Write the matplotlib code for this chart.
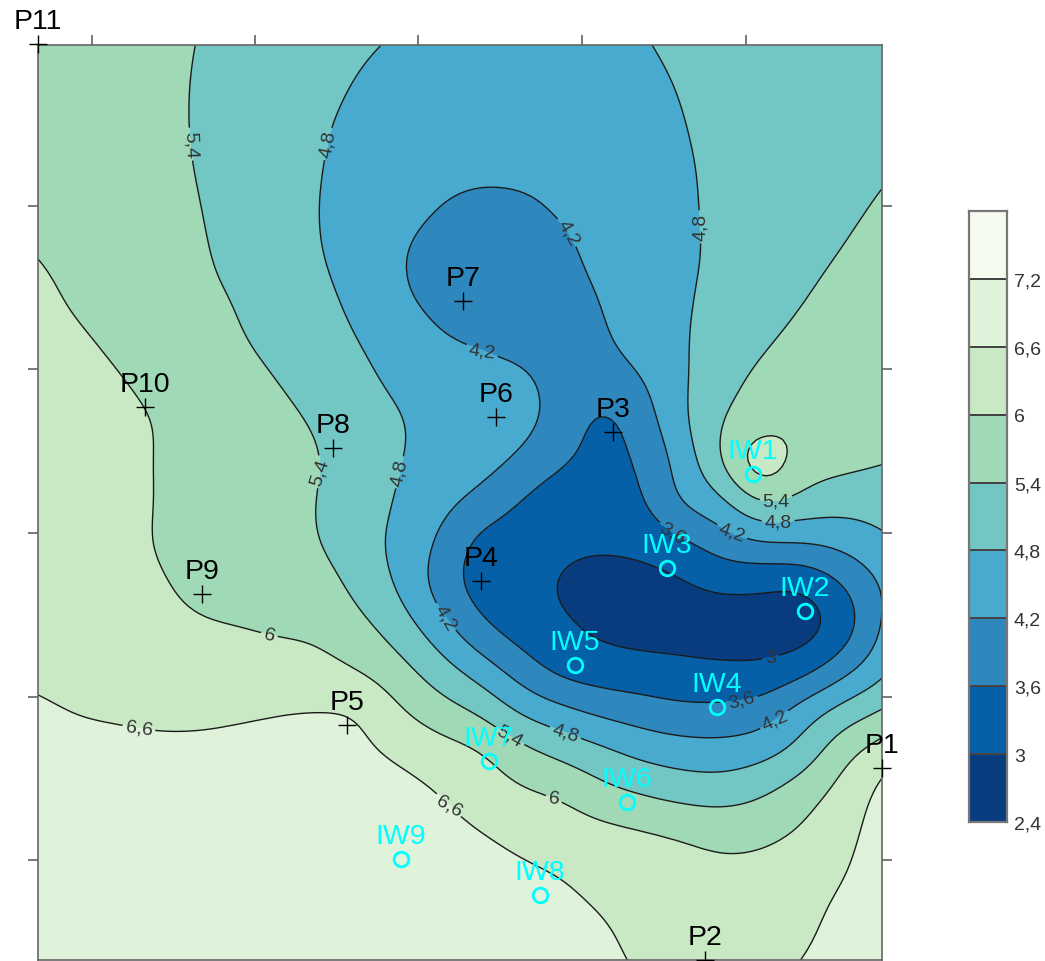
import matplotlib
matplotlib.use('Agg')
import matplotlib.pyplot as plt
from matplotlib.colors import BoundaryNorm, ListedColormap
import numpy as np

plt.rcParams['font.family'] = ['Liberation Sans', 'DejaVu Sans']

# map coordinates are image-like: x to the right, y downwards
x_min, x_max = 38, 882
y_top, y_bottom = 46, 961

# surface values, row by row from the top (22 columns, 23 rows)
surface = np.array([
    [5.75, 5.68, 5.60, 5.50, 5.39, 5.28, 5.15, 5.00, 4.87, 4.74, 4.60, 4.50, 4.43, 4.45, 4.58, 4.76, 4.90, 5.00, 5.05, 5.08, 5.10, 5.12],
    [5.78, 5.70, 5.62, 5.50, 5.37, 5.22, 5.06, 4.92, 4.76, 4.60, 4.48, 4.40, 4.35, 4.38, 4.50, 4.66, 4.83, 4.98, 5.07, 5.14, 5.20, 5.24],
    [5.82, 5.74, 5.65, 5.52, 5.36, 5.20, 5.02, 4.85, 4.68, 4.52, 4.42, 4.35, 4.33, 4.35, 4.43, 4.58, 4.77, 4.96, 5.08, 5.18, 5.26, 5.32],
    [5.86, 5.78, 5.68, 5.54, 5.38, 5.20, 5.00, 4.82, 4.62, 4.46, 4.32, 4.28, 4.30, 4.33, 4.39, 4.52, 4.72, 4.93, 5.08, 5.20, 5.30, 5.37],
    [5.92, 5.83, 5.72, 5.58, 5.42, 5.21, 5.00, 4.80, 4.57, 4.36, 4.18, 4.08, 4.09, 4.25, 4.35, 4.49, 4.70, 4.92, 5.08, 5.22, 5.33, 5.44],
    [5.98, 5.88, 5.76, 5.62, 5.46, 5.25, 5.03, 4.83, 4.53, 4.23, 4.02, 3.92, 3.93, 4.08, 4.35, 4.52, 4.70, 4.90, 5.09, 5.26, 5.41, 5.56],
    [6.10, 5.92, 5.78, 5.62, 5.50, 5.36, 5.15, 4.92, 4.64, 4.26, 4.05, 3.95, 3.92, 4.00, 4.22, 4.50, 4.73, 4.94, 5.16, 5.36, 5.55, 5.70],
    [6.20, 6.05, 5.88, 5.74, 5.60, 5.43, 5.22, 5.02, 4.78, 4.48, 4.22, 4.12, 4.00, 3.95, 4.12, 4.45, 4.75, 5.00, 5.30, 5.52, 5.70, 5.80],
    [6.35, 6.20, 6.02, 5.85, 5.72, 5.57, 5.38, 5.16, 4.93, 4.66, 4.45, 4.36, 4.30, 4.02, 3.95, 4.18, 4.70, 5.20, 5.52, 5.72, 5.82, 5.88],
    [6.40, 6.30, 6.15, 5.97, 5.83, 5.68, 5.52, 5.33, 5.05, 4.84, 4.60, 4.45, 4.38, 4.00, 3.45, 3.90, 4.68, 5.38, 5.70, 5.90, 5.92, 5.92],
    [6.45, 6.38, 6.20, 5.96, 5.85, 5.74, 5.60, 5.43, 5.10, 4.82, 4.58, 4.42, 4.12, 3.70, 3.40, 3.68, 4.42, 5.42, 6.50, 5.75, 5.58, 5.42],
    [6.45, 6.40, 6.22, 5.96, 5.87, 5.75, 5.60, 5.38, 5.08, 4.74, 4.38, 4.02, 3.57, 3.20, 3.20, 3.52, 4.25, 4.62, 5.45, 5.20, 5.02, 5.05],
    [6.45, 6.40, 6.20, 5.95, 5.87, 5.75, 5.60, 5.42, 5.02, 4.65, 4.10, 3.40, 3.25, 3.12, 3.10, 3.18, 3.45, 3.87, 4.13, 4.17, 4.35, 4.68],
    [6.45, 6.40, 6.25, 6.05, 5.88, 5.75, 5.68, 5.65, 5.22, 4.72, 3.95, 3.35, 3.20, 2.95, 2.75, 2.75, 2.90, 3.12, 3.08, 3.03, 3.55, 4.22],
    [6.45, 6.38, 6.30, 6.17, 6.06, 6.01, 5.92, 5.87, 5.56, 5.10, 4.43, 3.72, 3.32, 3.10, 2.90, 2.78, 2.75, 2.65, 2.70, 2.70, 3.25, 4.22],
    [6.52, 6.48, 6.42, 6.36, 6.30, 6.28, 6.25, 6.17, 5.95, 5.58, 5.05, 4.50, 3.90, 3.40, 3.25, 3.20, 3.15, 3.12, 3.10, 3.35, 3.95, 4.62],
    [6.65, 6.58, 6.55, 6.52, 6.52, 6.55, 6.59, 6.62, 6.58, 6.05, 5.65, 5.30, 4.70, 4.35, 4.05, 3.87, 3.72, 3.72, 3.85, 4.45, 5.00, 5.42],
    [6.75, 6.72, 6.70, 6.68, 6.68, 6.70, 6.72, 6.75, 6.70, 6.50, 6.25, 6.05, 5.60, 5.25, 4.95, 4.65, 4.50, 4.45, 4.60, 5.02, 5.80, 6.30],
    [6.85, 6.85, 6.85, 6.85, 6.85, 6.85, 6.85, 6.85, 6.85, 6.78, 6.60, 6.32, 6.08, 5.95, 5.60, 5.38, 5.20, 5.15, 5.35, 5.75, 6.20, 6.75],
    [6.90, 6.90, 6.90, 6.90, 6.90, 6.90, 6.90, 6.90, 6.88, 6.85, 6.78, 6.64, 6.47, 6.32, 6.20, 6.10, 5.98, 5.85, 5.88, 6.08, 6.42, 6.85],
    [6.93, 6.93, 6.93, 6.93, 6.93, 6.93, 6.93, 6.93, 6.92, 6.90, 6.85, 6.78, 6.70, 6.61, 6.45, 6.32, 6.22, 6.15, 6.20, 6.38, 6.57, 6.90],
    [6.96, 6.96, 6.96, 6.96, 6.96, 6.96, 6.96, 6.96, 6.95, 6.93, 6.90, 6.85, 6.80, 6.72, 6.62, 6.48, 6.38, 6.35, 6.38, 6.48, 6.72, 6.95],
    [6.98, 6.98, 6.98, 6.98, 6.98, 6.98, 6.98, 6.98, 6.97, 6.96, 6.93, 6.90, 6.86, 6.80, 6.68, 6.56, 6.48, 6.45, 6.48, 6.60, 6.78, 7.00],
])

levels = [2.4, 3.0, 3.6, 4.2, 4.8, 5.4, 6.0, 6.6, 7.2, 7.8]
line_levels = levels[1:-1]
colors = ['#083c7f', '#0560a8', '#2e87bd', '#49aacf', '#72c7c5', '#a0d9b5', '#c8e9c4', '#dff2da', '#f5fcef']

wells_p = ['P1', 'P2', 'P3', 'P4', 'P5', 'P6', 'P7', 'P8', 'P9', 'P10', 'P11']
wells_p_x = [882, 705, 613, 481, 347, 496, 463, 333, 202, 145, 38]
wells_p_y = [769, 961, 433, 582, 726, 418, 302, 449, 595, 408, 45]

wells_iw = ['IW1', 'IW2', 'IW3', 'IW4', 'IW5', 'IW6', 'IW7', 'IW8', 'IW9']
wells_iw_x = [753, 805, 667, 717, 575, 627, 489, 540, 401]
wells_iw_y = [475, 612, 569, 708, 666, 803, 762, 896, 860]

x_ticks = [92, 255, 418, 582, 746]
y_ticks = [207, 370, 534, 698, 861]

# where the isoline labels sit on the map, and how far each one is turned
label_spots = [(192, 145), (328, 145), (568, 233), (697, 228), (481, 355), (322, 473), (398, 473),
               (675, 530), (731, 535), (776, 500), (778, 520), (443, 620), (270, 633), (140, 722),
               (770, 655), (742, 703), (775, 722), (510, 737), (566, 732), (557, 792), (450, 805)]
label_turns = [-88, 80, -60, 90, -8, 72, 78, -30, -20, 0, 0, -60, -15, -8, 0, 15, 25, -30, -18, -8, -30]


def fmt_level(v):
    return f'{v:g}'.replace('.', ',')


def catmull_rom(z, n, axis):
    # tensor spline through the read values so that isolines come out round
    z = np.moveaxis(z, axis, 0)
    padded = np.concatenate([2 * z[:1] - z[1:2], z, 2 * z[-1:] - z[-2:-1]])
    t = np.arange((z.shape[0] - 1) * n + 1) / n
    i = np.minimum(t.astype(int), z.shape[0] - 2)
    f = (t - i).reshape((-1,) + (1,) * (z.ndim - 1))
    p0, p1, p2, p3 = padded[i], padded[i + 1], padded[i + 2], padded[i + 3]
    out = 0.5 * (2 * p1 + (p2 - p0) * f + (2 * p0 - 5 * p1 + 4 * p2 - p3) * f ** 2 + (3 * p1 - p0 - 3 * p2 + p3) * f ** 3)
    return np.moveaxis(out, 0, axis)


def soften(z, sigma, axis):
    r = int(3 * sigma)
    kernel = np.exp(-0.5 * (np.arange(-r, r + 1) / sigma) ** 2)
    kernel /= kernel.sum()
    pad = [(r, r) if a == axis else (0, 0) for a in range(z.ndim)]
    padded = np.pad(z, pad, mode='reflect', reflect_type='odd')
    return np.apply_along_axis(lambda s: np.convolve(s, kernel, mode='valid'), axis, padded)


fig = plt.figure(figsize=(10.45, 9.62), dpi=100)
ax = fig.add_axes([x_min / 1045, (962 - y_bottom) / 962, (x_max - x_min) / 1045, (y_bottom - y_top) / 962])

steps = 8
fine = catmull_rom(catmull_rom(surface, steps, 0), steps, 1)
fine = soften(soften(fine, 3.0, 0), 3.0, 1)
fine_x = np.linspace(x_min, x_max, fine.shape[1])
fine_y = np.linspace(y_top, y_bottom, fine.shape[0])

ax.contourf(fine_x, fine_y, fine, levels=levels, colors=colors, extend='neither')
cs = ax.contour(fine_x, fine_y, fine, levels=line_levels, colors='#1a1a1a', linewidths=1.0)
texts = ax.clabel(cs, fmt=fmt_level, fontsize=14, colors='#333333', manual=label_spots, inline=True, inline_spacing=3)
for t, turn in zip(texts, label_turns):
    t.set_rotation(turn)

ax.set_xlim(x_min, x_max)
ax.set_ylim(y_bottom, y_top)

ax.plot(wells_p_x, wells_p_y, '+', color='black', ms=13, mew=1.0, clip_on=False, zorder=5)
for name, x, y in zip(wells_p, wells_p_x, wells_p_y):
    ax.annotate(name, (x, y), xytext=(0, 16.5), textcoords='offset points', ha='center', va='center',
                fontsize=20.5, color='black', annotation_clip=False, zorder=6)

ax.plot(wells_iw_x, wells_iw_y, 'o', mfc='none', mec='#00ffff', ms=10.5, mew=2.0, clip_on=False, zorder=5)
for name, x, y in zip(wells_iw, wells_iw_x, wells_iw_y):
    ax.annotate(name, (x, y), xytext=(0, 16.5), textcoords='offset points', ha='center', va='center',
                fontsize=20.5, color='#00ffff', annotation_clip=False, zorder=6)

ax.set_xticks(x_ticks)
ax.set_yticks(y_ticks)
ax.tick_params(top=True, bottom=False, left=True, right=True, labelbottom=False, labelleft=False,
               length=7.5, width=1.1, color='#555555')
for side in ax.spines.values():
    side.set_linewidth(1.2)
    side.set_color('#666666')

# colour scale on the right
cax = fig.add_axes([969 / 1045, (962 - 823) / 962, 38 / 1045, 611 / 962])
cax.pcolormesh([0, 1], levels, np.array(levels[:-1]).reshape(-1, 1), cmap=ListedColormap(colors),
               norm=BoundaryNorm(levels, len(colors)), edgecolors='#444444', linewidth=1.2)
cax.set_xticks([])
cax.set_yticks(levels[:-1])
cax.set_yticklabels([fmt_level(v) for v in levels[:-1]], fontsize=14, color='#333333')
cax.yaxis.tick_right()
cax.tick_params(axis='y', length=0, pad=5)
for side in cax.spines.values():
    side.set_linewidth(1.6)
    side.set_color('#777777')

fig.savefig('out.png', dpi=100)
